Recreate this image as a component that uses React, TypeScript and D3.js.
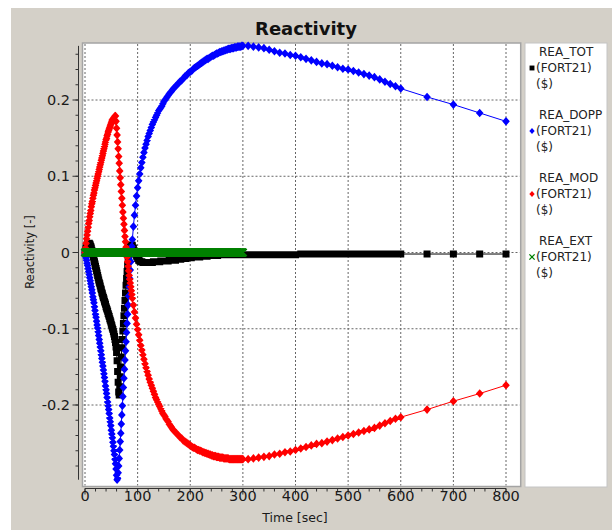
import React from "react";
import * as d3 from "d3";

// ---------- data (time in sec, reactivity in $) ----------
const T_DENSE = [
  0, 1, 2, 3, 4, 5, 6, 7, 8, 9,
  10, 11, 12, 13, 14, 15, 16, 17, 18, 19,
  20, 21, 22, 23, 24, 25, 26, 27, 28, 29,
  30, 31, 32, 33, 34, 35, 36, 37, 38, 39,
  40, 41, 42, 43, 44, 45, 46, 47, 48, 49,
  50, 51, 52, 53, 54, 55, 56, 57, 58, 59,
  60, 61, 62, 63, 64, 65, 66, 67, 68, 69,
  70, 71, 72, 73, 74, 75, 76, 77, 78, 79,
  80, 81, 82, 83, 84, 85, 86, 87, 88, 89,
  90, 92, 94, 96, 98, 100, 102, 104, 106, 108,
  110, 112, 114, 116, 118, 120, 122, 124, 126, 128,
  130, 132, 134, 136, 138, 140, 142, 144, 146, 148,
  150, 152, 154, 156, 158, 160, 162, 164, 166, 168,
  170, 172, 174, 176, 178, 180, 182, 184, 186, 188,
  190, 192, 194, 196, 198, 200, 202, 204, 206, 208,
  210, 212, 214, 216, 218, 220, 222, 224, 226, 228,
  230, 232, 234, 236, 238, 240, 242, 244, 246, 248,
  250, 252, 254, 256, 258, 260, 262, 264, 266, 268,
  270, 272, 274, 276, 278, 280, 282, 284, 286, 288,
  290, 292, 294, 296, 298, 300,
];
const T_MID = [
  310, 320, 330, 340, 350, 360, 370, 380, 390, 400,
  410, 420, 430, 440, 450, 460, 470, 480, 490, 500,
  510, 520, 530, 540, 550, 560, 570, 580, 590, 600,
];
const T_TAIL = [650, 700, 750, 800];

const TOT_DENSE = [
  0, 0.003, 0.006, 0.008, 0.010, 0.011, 0.012, 0.012, 0.012, 0.011,
  0.010, 0.008, 0.006, 0.003, 0.000, -0.003, -0.006, -0.009, -0.012, -0.015,
  -0.018, -0.021, -0.024, -0.027, -0.030, -0.033, -0.036, -0.039, -0.041, -0.044,
  -0.047, -0.049, -0.052, -0.054, -0.057, -0.059, -0.061, -0.064, -0.066, -0.068,
  -0.071, -0.073, -0.075, -0.077, -0.080, -0.082, -0.084, -0.087, -0.089, -0.091,
  -0.094, -0.096, -0.099, -0.101, -0.104, -0.107, -0.110, -0.114, -0.118, -0.124,
  -0.131, -0.142, -0.156, -0.170, -0.183, -0.187, -0.176, -0.163, -0.150, -0.137,
  -0.125, -0.114, -0.103, -0.093, -0.083, -0.073, -0.063, -0.053, -0.043, -0.034,
  -0.025, -0.017, -0.010, -0.004, 0.001, 0.005, 0.008, 0.010, 0.010, 0.010,
  0.009, 0.006, 0.002, -0.002, -0.005, -0.008, -0.010, -0.011, -0.012, -0.012,
  -0.013, -0.013, -0.013, -0.013, -0.013, -0.013, -0.013, -0.013, -0.013, -0.013,
  -0.012, -0.012, -0.012, -0.012, -0.012, -0.012, -0.012, -0.011, -0.011, -0.011,
  -0.011, -0.011, -0.011, -0.011, -0.011, -0.010, -0.010, -0.010, -0.010, -0.010,
  -0.010, -0.010, -0.009, -0.009, -0.009, -0.009, -0.009, -0.008, -0.008, -0.008,
  -0.008, -0.008, -0.007, -0.007, -0.007, -0.007, -0.007, -0.006, -0.006, -0.006,
  -0.006, -0.006, -0.006, -0.006, -0.006, -0.005, -0.005, -0.005, -0.005, -0.005,
  -0.005, -0.005, -0.004, -0.004, -0.004, -0.004, -0.004, -0.004, -0.004, -0.004,
  -0.004, -0.004, -0.003, -0.003, -0.003, -0.003, -0.003, -0.003, -0.003, -0.003,
  -0.003, -0.003, -0.003, -0.003, -0.003, -0.003, -0.003, -0.003, -0.003, -0.003,
  -0.003, -0.003, -0.003, -0.003, -0.003, -0.003,
];
const TOT_MID = [
  -0.003, -0.003, -0.003, -0.003, -0.003, -0.003, -0.003, -0.003, -0.003, -0.003,
  -0.002, -0.002, -0.002, -0.002, -0.002, -0.002, -0.002, -0.002, -0.002, -0.002,
  -0.002, -0.002, -0.002, -0.002, -0.002, -0.002, -0.002, -0.002, -0.002, -0.002,
];
const TOT_TAIL = [-0.002, -0.002, -0.002, -0.002];

const DOPP_DENSE = [
  0, -0.003, -0.007, -0.010, -0.014, -0.017, -0.021, -0.025, -0.029, -0.033,
  -0.037, -0.041, -0.045, -0.049, -0.053, -0.058, -0.062, -0.066, -0.071, -0.076,
  -0.081, -0.085, -0.090, -0.095, -0.099, -0.104, -0.109, -0.114, -0.119, -0.124,
  -0.129, -0.134, -0.139, -0.144, -0.149, -0.154, -0.159, -0.164, -0.169, -0.175,
  -0.180, -0.185, -0.190, -0.196, -0.201, -0.206, -0.211, -0.217, -0.222, -0.227,
  -0.233, -0.238, -0.243, -0.249, -0.254, -0.260, -0.265, -0.271, -0.277, -0.284,
  -0.292, -0.298, -0.296, -0.289, -0.280, -0.270, -0.259, -0.248, -0.237, -0.225,
  -0.213, -0.201, -0.189, -0.177, -0.165, -0.153, -0.141, -0.129, -0.117, -0.105,
  -0.093, -0.081, -0.069, -0.057, -0.045, -0.034, -0.023, -0.012, -0.002, 0.008,
  0.017, 0.034, 0.049, 0.062, 0.074, 0.085, 0.094, 0.103, 0.111, 0.118,
  0.125, 0.131, 0.137, 0.142, 0.147, 0.152, 0.156, 0.160, 0.164, 0.168,
  0.171, 0.174, 0.177, 0.180, 0.183, 0.186, 0.188, 0.190, 0.192, 0.195,
  0.198, 0.200, 0.202, 0.204, 0.206, 0.208, 0.210, 0.211, 0.213, 0.215,
  0.216, 0.218, 0.219, 0.221, 0.222, 0.224, 0.225, 0.226, 0.228, 0.229,
  0.231, 0.232, 0.233, 0.235, 0.236, 0.237, 0.238, 0.239, 0.241, 0.242,
  0.243, 0.244, 0.245, 0.246, 0.247, 0.248, 0.249, 0.250, 0.251, 0.252,
  0.253, 0.254, 0.254, 0.255, 0.256, 0.257, 0.258, 0.258, 0.259, 0.260,
  0.261, 0.261, 0.262, 0.263, 0.263, 0.264, 0.264, 0.265, 0.265, 0.266,
  0.266, 0.267, 0.267, 0.267, 0.268, 0.268, 0.268, 0.269, 0.269, 0.269,
  0.270, 0.270, 0.270, 0.270, 0.271, 0.271,
];
const DOPP_MID = [
  0.271, 0.270, 0.269, 0.268, 0.266, 0.264, 0.262, 0.261, 0.259, 0.258,
  0.256, 0.254, 0.252, 0.250, 0.248, 0.247, 0.245, 0.243, 0.241, 0.240,
  0.238, 0.236, 0.234, 0.232, 0.230, 0.227, 0.224, 0.221, 0.218, 0.215,
];
const DOPP_TAIL = [0.204, 0.194, 0.183, 0.172];

const MOD_DENSE = [
  0, 0.006, 0.012, 0.018, 0.023, 0.028, 0.033, 0.038, 0.042, 0.047,
  0.051, 0.055, 0.060, 0.064, 0.067, 0.071, 0.075, 0.078, 0.082, 0.085,
  0.088, 0.091, 0.094, 0.097, 0.100, 0.103, 0.106, 0.109, 0.112, 0.115,
  0.118, 0.121, 0.124, 0.127, 0.130, 0.133, 0.136, 0.139, 0.142, 0.145,
  0.148, 0.150, 0.153, 0.155, 0.158, 0.160, 0.162, 0.164, 0.166, 0.168,
  0.170, 0.172, 0.174, 0.175, 0.176, 0.177, 0.178, 0.179, 0.179, 0.172,
  0.163, 0.154, 0.145, 0.136, 0.126, 0.117, 0.107, 0.098, 0.089, 0.080,
  0.071, 0.062, 0.053, 0.045, 0.037, 0.029, 0.021, 0.014, 0.007, 0.000,
  -0.006, -0.012, -0.018, -0.024, -0.030, -0.035, -0.040, -0.045, -0.050, -0.055,
  -0.060, -0.069, -0.078, -0.086, -0.094, -0.101, -0.108, -0.115, -0.122, -0.128,
  -0.134, -0.140, -0.146, -0.151, -0.156, -0.161, -0.166, -0.170, -0.174, -0.178,
  -0.182, -0.186, -0.190, -0.193, -0.196, -0.199, -0.202, -0.205, -0.208, -0.211,
  -0.213, -0.215, -0.218, -0.220, -0.222, -0.225, -0.227, -0.229, -0.231, -0.233,
  -0.234, -0.236, -0.237, -0.239, -0.240, -0.242, -0.243, -0.244, -0.246, -0.247,
  -0.248, -0.249, -0.250, -0.251, -0.252, -0.253, -0.254, -0.255, -0.256, -0.256,
  -0.257, -0.258, -0.259, -0.259, -0.260, -0.260, -0.261, -0.262, -0.262, -0.263,
  -0.263, -0.264, -0.264, -0.265, -0.265, -0.266, -0.266, -0.267, -0.267, -0.267,
  -0.268, -0.268, -0.268, -0.269, -0.269, -0.269, -0.269, -0.270, -0.270, -0.270,
  -0.270, -0.270, -0.271, -0.271, -0.271, -0.271, -0.271, -0.271, -0.271, -0.271,
  -0.271, -0.271, -0.271, -0.271, -0.271, -0.271,
];
const MOD_MID = [
  -0.271, -0.270, -0.269, -0.268, -0.267, -0.265, -0.264, -0.262, -0.261, -0.259,
  -0.257, -0.255, -0.253, -0.251, -0.250, -0.248, -0.246, -0.244, -0.242, -0.240,
  -0.238, -0.236, -0.234, -0.232, -0.230, -0.227, -0.224, -0.221, -0.218, -0.216,
];
const MOD_TAIL = [-0.206, -0.195, -0.185, -0.174];

const EXT_DENSE = [
  0, 0, 0, 0, 0, 0, 0, 0, 0, 0,
  0, 0, 0, 0, 0, 0, 0, 0, 0, 0,
  0, 0, 0, 0, 0, 0, 0, 0, 0, 0,
  0, 0, 0, 0, 0, 0, 0, 0, 0, 0,
  0, 0, 0, 0, 0, 0, 0, 0, 0, 0,
  0, 0, 0, 0, 0, 0, 0, 0, 0, 0,
  0, 0, 0, 0, 0, 0, 0, 0, 0, 0,
  0, 0, 0, 0, 0, 0, 0, 0, 0, 0,
  0, 0, 0, 0, 0, 0, 0, 0, 0, 0,
  0, 0, 0, 0, 0, 0, 0, 0, 0, 0,
  0, 0, 0, 0, 0, 0, 0, 0, 0, 0,
  0, 0, 0, 0, 0, 0, 0, 0, 0, 0,
  0, 0, 0, 0, 0, 0, 0, 0, 0, 0,
  0, 0, 0, 0, 0, 0, 0, 0, 0, 0,
  0, 0, 0, 0, 0, 0, 0, 0, 0, 0,
  0, 0, 0, 0, 0, 0, 0, 0, 0, 0,
  0, 0, 0, 0, 0, 0, 0, 0, 0, 0,
  0, 0, 0, 0, 0, 0, 0, 0, 0, 0,
  0, 0, 0, 0, 0, 0, 0, 0, 0, 0,
  0, 0, 0, 0, 0, 0,
];

const X_TICKS = [0, 100, 200, 300, 400, 500, 600, 700, 800];
const Y_TICKS = [-0.2, -0.1, 0, 0.1, 0.2];
const Y_TICK_LABELS = ["-0.2", "-0.1", "0", "0.1", "0.2"];
const SERIES_NAMES = ["REA_TOT", "REA_DOPP", "REA_MOD", "REA_EXT"];
const SERIES_SOURCE = "(FORT21)";
const SERIES_UNIT = "($)";

// ---------- layout ----------
const W = 612;
const H = 530;
const FONT = "'DejaVu Sans', Verdana, sans-serif";
const PLOT = { left: 82.5, top: 43, right: 520.7, bottom: 486.5 };

const x = d3.scaleLinear().domain([0, 800]).range([85, 506]);
const y = d3.scaleLinear().domain([-0.2, 0.2]).range([405, 100]);

type Pt = [number, number];
const zip = (t: number[], v: number[]): Pt[] => t.map((d, i) => [d, v[i]]);

const TIME_ALL = [...T_DENSE, ...T_MID, ...T_TAIL];
const TOT = zip(TIME_ALL, [...TOT_DENSE, ...TOT_MID, ...TOT_TAIL]);
const DOPP = zip(TIME_ALL, [...DOPP_DENSE, ...DOPP_MID, ...DOPP_TAIL]);
const MOD = zip(TIME_ALL, [...MOD_DENSE, ...MOD_MID, ...MOD_TAIL]);
const EXT = zip(T_DENSE, EXT_DENSE);

const line = d3
  .line<Pt>()
  .x((d) => x(d[0]))
  .y((d) => y(d[1]));

const squarePath = (cx: number, cy: number, s: number) =>
  `M${cx - s / 2},${cy - s / 2}h${s}v${s}h${-s}Z`;
const diamondPath = (cx: number, cy: number, w: number, h: number) =>
  `M${cx},${cy - h / 2}L${cx + w / 2},${cy}L${cx},${cy + h / 2}L${cx - w / 2},${cy}Z`;
const crossPath = (cx: number, cy: number, s: number) =>
  `M${cx - s / 2},${cy - s / 2}L${cx + s / 2},${cy + s / 2}M${cx - s / 2},${cy + s / 2}L${cx + s / 2},${cy - s / 2}`;

type Shape = "square" | "diamond" | "cross";
const markerPath = (shape: Shape, cx: number, cy: number, scale = 1) => {
  if (shape === "square") return squarePath(cx, cy, 7 * scale);
  if (shape === "diamond") return diamondPath(cx, cy, 7.6 * scale, 8.6 * scale);
  return crossPath(cx, cy, 7.5 * scale);
};

const SERIES: { name: string; data: Pt[]; color: string; shape: Shape }[] = [
  { name: SERIES_NAMES[0], data: TOT, color: "#000000", shape: "square" },
  { name: SERIES_NAMES[1], data: DOPP, color: "#0000ff", shape: "diamond" },
  { name: SERIES_NAMES[2], data: MOD, color: "#ff0000", shape: "diamond" },
  { name: SERIES_NAMES[3], data: EXT, color: "#008000", shape: "cross" },
];

export default function App() {
  const allVals = [...TOT, ...DOPP, ...MOD, ...EXT].map((d) => d[1]);
  const [vmin, vmax] = d3.extent(allVals) as [number, number];
  const [tmin, tmax] = d3.extent(TIME_ALL) as [number, number];
  const xMinor = d3.range(tmin, tmax + 1, 20);
  const yMinor = d3
    .range(Math.ceil(vmin / 0.02), Math.floor(vmax / 0.02) + 1)
    .map((i) => i * 0.02);
  const xSpineY = 488.5;
  const ySpineX = 78.5;

  return (
    <svg
      width={W}
      height={H}
      style={{ position: "absolute", left: 0, top: 0, display: "block" }}
      fontFamily={FONT}
    >
      <rect x={0} y={0} width={W} height={H} fill="#ffffff" />
      <rect x={11} y={8} width={W - 11} height={H - 8} fill="#d4d0c8" />

      {/* title */}
      <text x={306} y={35} textAnchor="middle" fontSize={18} fontWeight="bold" fill="#111">
        Reactivity
      </text>

      {/* plot frame */}
      <rect
        x={PLOT.left}
        y={PLOT.top}
        width={PLOT.right - PLOT.left}
        height={PLOT.bottom - PLOT.top}
        fill="#ffffff"
        stroke="#a4a4a4"
        strokeWidth={1.5}
      />

      {/* grid */}
      <g stroke="#666" strokeWidth={1} strokeDasharray="2,2">
        {X_TICKS.map((t) => (
          <line key={"gx" + t} x1={x(t)} x2={x(t)} y1={PLOT.top + 1} y2={PLOT.bottom - 1} />
        ))}
        {Y_TICKS.map((v) => (
          <line key={"gy" + v} x1={PLOT.left + 1} x2={PLOT.right - 1} y1={y(v)} y2={y(v)} />
        ))}
      </g>

      {/* series */}
      <g>
        {SERIES.map((s) => {
          const d = s.data.map((p) => markerPath(s.shape, x(p[0]), y(p[1]))).join("");
          return (
            <g key={s.name}>
              <path d={line(s.data) || ""} fill="none" stroke={s.color} strokeWidth={1} />
              {s.shape === "cross" ? (
                <path d={d} fill="none" stroke={s.color} strokeWidth={2} />
              ) : (
                <path d={d} fill={s.color} stroke="none" />
              )}
            </g>
          );
        })}
      </g>

      {/* y axis */}
      <g stroke="#333" strokeWidth={1}>
        <line x1={ySpineX} x2={ySpineX} y1={y(vmax)} y2={y(vmin)} />
        {yMinor.map((v) => (
          <line key={"ym" + v} x1={ySpineX - 3} x2={ySpineX} y1={y(v)} y2={y(v)} />
        ))}
        {Y_TICKS.map((v) => (
          <line key={"yM" + v} x1={ySpineX - 6} x2={ySpineX} y1={y(v)} y2={y(v)} />
        ))}
      </g>
      {Y_TICKS.map((v, i) => (
        <text key={"yl" + v} x={70} y={y(v) + 5} textAnchor="end" fontSize={14.5} fill="#1a1a1a">
          {Y_TICK_LABELS[i]}
        </text>
      ))}
      <text
        transform={`translate(34,252) rotate(-90)`}
        textAnchor="middle"
        fontSize={11.5}
        fill="#1a1a1a"
      >
        Reactivity [-]
      </text>

      {/* x axis */}
      <g stroke="#333" strokeWidth={1}>
        <line x1={x(tmin)} x2={x(tmax)} y1={xSpineY} y2={xSpineY} />
        {xMinor.map((t) => (
          <line key={"xm" + t} x1={x(t)} x2={x(t)} y1={xSpineY} y2={xSpineY + 3} />
        ))}
        {X_TICKS.map((t) => (
          <line key={"xM" + t} x1={x(t)} x2={x(t)} y1={xSpineY} y2={xSpineY + 6} />
        ))}
      </g>
      {X_TICKS.map((t) => (
        <text key={"xl" + t} x={x(t)} y={501} textAnchor="middle" fontSize={14.5} fill="#1a1a1a">
          {String(t)}
        </text>
      ))}
      <text x={295} y={522} textAnchor="middle" fontSize={12.5} fill="#1a1a1a">
        Time [sec]
      </text>

      {/* legend */}
      <rect x={525} y={43} width={82} height={444} fill="#ffffff" stroke="#c4c4c4" strokeWidth={1} />
      {SERIES.map((s, i) => {
        const base = 56 + i * 63;
        const my = base + 12;
        const md = markerPath(s.shape, 532, my, 0.7);
        return (
          <g key={"lg" + s.name} fontSize={12} fill="#222">
            <text x={539} y={base}>{s.name}</text>
            {s.shape === "cross" ? (
              <path d={md} fill="none" stroke={s.color} strokeWidth={1.3} />
            ) : (
              <path d={md} fill={s.color} />
            )}
            <text x={536} y={base + 16}>{SERIES_SOURCE}</text>
            <text x={536} y={base + 32}>{SERIES_UNIT}</text>
          </g>
        );
      })}
    </svg>
  );
}
